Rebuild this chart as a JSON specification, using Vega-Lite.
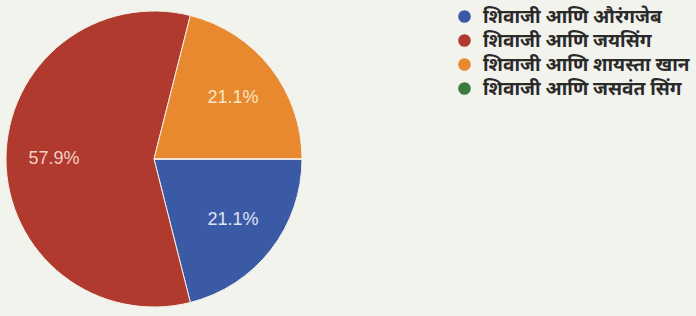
{
  "$schema": "https://vega.github.io/schema/vega-lite/v6.json",
  "width": 308,
  "height": 318,
  "autosize": {"type": "none"},
  "padding": {"left": 0, "top": 0, "right": 388, "bottom": 0},
  "background": "#f3f3ee",
  "view": {"stroke": null},
  "data": {
    "values": [
      {"pair": "शिवाजी आणि औरंगजेब", "count": 4, "ord": 1, "label": "21.1%"},
      {"pair": "शिवाजी आणि जयसिंग", "count": 11, "ord": 2, "label": "57.9%"},
      {"pair": "शिवाजी आणि शायस्ता खान", "count": 4, "ord": 3, "label": "21.1%"},
      {"pair": "शिवाजी आणि जसवंत सिंग", "count": 0, "ord": 4, "label": ""}
    ]
  },
  "encoding": {
    "theta": {"field": "count", "type": "quantitative", "stack": true, "scale": {"range": [1.5708, 7.854]}},
    "order": {"field": "ord", "type": "quantitative"}
  },
  "layer": [
    {
      "mark": {"type": "arc", "outerRadius": 148, "stroke": "#f2efe6", "strokeWidth": 1},
      "encoding": {
        "color": {
          "field": "pair",
          "type": "nominal",
          "sort": ["शिवाजी आणि औरंगजेब", "शिवाजी आणि जयसिंग", "शिवाजी आणि शायस्ता खान", "शिवाजी आणि जसवंत सिंग"],
          "scale": {
            "domain": ["शिवाजी आणि औरंगजेब", "शिवाजी आणि जयसिंग", "शिवाजी आणि शायस्ता खान", "शिवाजी आणि जसवंत सिंग"],
            "range": ["#3b5aa6", "#b03a2e", "#e9892f", "#3d7a3f"]
          },
          "legend": {
            "title": null,
            "orient": "none",
            "legendX": 455,
            "legendY": 7,
            "symbolType": "circle",
            "symbolSize": 160,
            "symbolStrokeWidth": 0,
            "labelFontSize": 19,
            "labelFontWeight": "bold",
            "labelFont": "Noto Sans Devanagari, Lohit Devanagari, Noto Sans, sans-serif",
            "labelColor": "#2a2a2a",
            "labelOffset": 9,
            "rowPadding": 4,
            "labelLimit": 300
          }
        }
      }
    },
    {
      "mark": {"type": "text", "radius": 100, "fontSize": 18, "font": "Liberation Sans"},
      "encoding": {
        "text": {"field": "label"},
        "color": {
          "field": "ord",
          "type": "nominal",
          "scale": {"domain": [1, 2, 3, 4], "range": ["#dfe4f2", "#f2cfc6", "#f8e6c4", "#ffffff"]},
          "legend": null
        }
      }
    }
  ],
  "resolve": {"scale": {"color": "independent"}, "legend": {"color": "independent"}}
}
